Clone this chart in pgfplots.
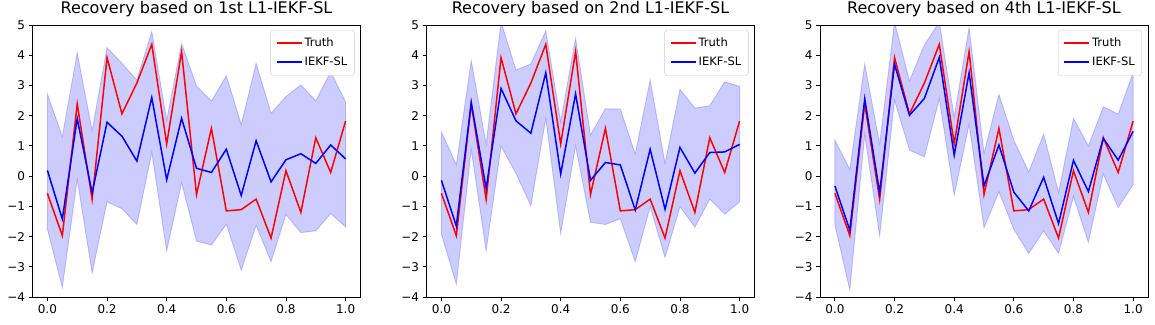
\documentclass[border=0pt]{standalone}
\usepackage{fontspec}
\setmainfont{DejaVu Sans}
\usepackage{pgfplots}
\pgfplotsset{compat=1.18}
\usepackage{pgfplotstable}

% columns: x, truth, estimate (IEKF-SL)
\pgfplotstableread{
x     truth  est
0.00  -0.57  0.19
0.05  -1.97 -1.42
0.10   2.39  1.90
0.15  -0.77 -0.55
0.20   3.92  1.78
0.25   2.06  1.32
0.30   3.08  0.50
0.35   4.36  2.60
0.40   1.06 -0.12
0.45   4.12  1.91
0.50  -0.61  0.26
0.55   1.58  0.12
0.60  -1.15  0.89
0.65  -1.11 -0.64
0.70  -0.76  1.17
0.75  -2.05 -0.19
0.80   0.18  0.54
0.85  -1.20  0.74
0.90   1.27  0.42
0.95   0.12  1.03
1.00   1.82  0.57
}\dataA

\pgfplotstableread{
x     truth  est
0.00  -0.57 -0.14
0.05  -1.97 -1.65
0.10   2.39  2.44
0.15  -0.77 -0.41
0.20   3.92  2.90
0.25   2.06  1.83
0.30   3.08  1.42
0.35   4.36  3.42
0.40   1.06  0.07
0.45   4.12  2.72
0.50  -0.61 -0.14
0.55   1.58  0.45
0.60  -1.15  0.37
0.65  -1.11 -1.12
0.70  -0.76  0.89
0.75  -2.05 -1.10
0.80   0.18  0.95
0.85  -1.20  0.10
0.90   1.27  0.78
0.95   0.12  0.80
1.00   1.82  1.05
}\dataB

\pgfplotstableread{
x     truth  est
0.00  -0.57 -0.33
0.05  -1.97 -1.79
0.10   2.39  2.56
0.15  -0.77 -0.55
0.20   3.92  3.70
0.25   2.06  2.01
0.30   3.08  2.57
0.35   4.36  3.93
0.40   1.06  0.69
0.45   4.12  3.42
0.50  -0.61 -0.32
0.55   1.58  1.03
0.60  -1.15 -0.53
0.65  -1.11 -1.15
0.70  -0.76 -0.04
0.75  -2.05 -1.57
0.80   0.18  0.52
0.85  -1.20 -0.51
0.90   1.27  1.25
0.95   0.12  0.53
1.00   1.82  1.48
}\dataC

% confidence bands: upper edge left to right, then lower edge right to left
\pgfplotstableread{
x     y
0.00   2.71
0.05   1.31
0.10   4.08
0.15   1.50
0.20   4.25
0.25   3.73
0.30   3.18
0.35   4.78
0.40   1.85
0.45   4.39
0.50   2.98
0.55   2.48
0.60   3.32
0.65   1.71
0.70   3.73
0.75   2.08
0.80   2.63
0.85   3.02
0.90   2.49
0.95   3.45
1.00   2.46
1.00  -1.68
0.95  -1.24
0.90  -1.81
0.85  -1.87
0.80  -1.27
0.75  -2.83
0.70  -1.63
0.65  -3.11
0.60  -1.59
0.55  -2.28
0.50  -2.15
0.45  -0.22
0.40  -2.47
0.35   0.78
0.30  -1.60
0.25  -1.08
0.20  -0.85
0.15  -3.20
0.10  -0.11
0.05  -3.68
0.00  -1.76
}\bandA

\pgfplotstableread{
x     y
0.00   1.46
0.05   0.38
0.10   3.82
0.15   1.06
0.20   5.10
0.25   3.51
0.30   3.71
0.35   4.81
0.40   1.80
0.45   4.56
0.50   1.36
0.55   2.23
0.60   2.22
0.65   0.73
0.70   3.18
0.75   0.42
0.80   2.87
0.85   2.25
0.90   2.33
0.95   3.12
1.00   2.97
1.00  -0.85
0.95  -1.26
0.90  -0.76
0.85  -1.69
0.80  -1.01
0.75  -2.69
0.70  -1.01
0.65  -2.83
0.60  -1.41
0.55  -1.60
0.50  -1.53
0.45   1.00
0.40  -1.90
0.35   1.91
0.30  -0.98
0.25   0.09
0.20   0.99
0.15  -2.47
0.10   0.88
0.05  -3.57
0.00  -1.92
}\bandB

\pgfplotstableread{
x     y
0.00   1.19
0.05   0.22
0.10   3.71
0.15   1.06
0.20   5.10
0.25   3.15
0.30   4.34
0.35   5.10
0.40   1.95
0.45   4.92
0.50   0.75
0.55   2.70
0.60   1.19
0.65   0.14
0.70   1.39
0.75  -0.54
0.80   1.91
0.85   1.00
0.90   2.29
0.95   2.05
1.00   3.42
1.00  -0.28
0.95  -1.04
0.90   0.07
0.85  -2.19
0.80  -0.68
0.75  -2.56
0.70  -1.81
0.65  -2.56
0.60  -1.76
0.55  -0.52
0.50  -1.71
0.45   1.71
0.40  -0.63
0.35   2.55
0.30   0.64
0.25   0.86
0.20   2.51
0.15  -1.98
0.10   1.37
0.05  -3.77
0.00  -1.62
}\bandC

\pgfplotsset{
  panel/.style={
    scale only axis,
    width=328pt, height=272pt,
    xmin=-0.05, xmax=1.05, ymin=-4, ymax=5,
    xtick={0,0.2,0.4,0.6,0.8,1.0},
    xticklabels={0.0,0.2,0.4,0.6,0.8,1.0},
    ytick={-4,-3,-2,-1,0,1,2,3,4,5},
    yticklabels={−4,−3,−2,−1,0,1,2,3,4,5},
    tick align=outside, tick pos=left,
    major tick length=4pt,
    tick style={black, line width=0.9pt},
    axis line style={line width=0.9pt},
    tick label style={font=\fontsize{12}{14}\selectfont},
    title style={at={(0.5,1)}, anchor=base, yshift=6pt, font=\fontsize{16}{19}\selectfont},
    legend style={at={(1,1)}, anchor=north east, xshift=-6pt, yshift=-5pt,
      draw=white!80!black, rounded corners=2.5pt, fill=white,
      inner xsep=5pt, inner ysep=6pt, row sep=5pt,
      font=\fontsize{11.5}{13}\selectfont},
    legend cell align=left,
  },
  band/.style={fill=blue, fill opacity=0.2, draw=blue, draw opacity=0.2,
    line width=0.9pt, forget plot},
  truth/.style={draw=red, line width=1.5pt, forget plot},
  iekf/.style={draw=blue, line width=1.5pt, forget plot},
  keyred/.style={legend image code/.code={\draw[red, line width=2pt, sharp corners] (0pt,0pt) -- (25pt,0pt);}},
  keyblue/.style={legend image code/.code={\draw[blue, line width=2pt, sharp corners] (0pt,0pt) -- (25pt,0pt);}},
}

\begin{document}
\begin{tikzpicture}
\useasboundingbox (0pt,0pt) rectangle (1155pt,324pt);

\begin{axis}[panel, at={(32.5pt,27pt)}, anchor=south west,
  title={Recovery based on 1st L1-IEKF-SL}]
  \addplot[band] table[x=x, y=y] {\bandA} -- cycle;
  \addplot[truth] table[x=x, y=truth] {\dataA};
  \addplot[iekf] table[x=x, y=est] {\dataA};
  \addlegendimage{keyred}\addlegendentry{Truth}
  \addlegendimage{keyblue}\addlegendentry{IEKF-SL}
\end{axis}

\begin{axis}[panel, at={(426.5pt,27pt)}, anchor=south west,
  title={Recovery based on 2nd L1-IEKF-SL}]
  \addplot[band] table[x=x, y=y] {\bandB} -- cycle;
  \addplot[truth] table[x=x, y=truth] {\dataB};
  \addplot[iekf] table[x=x, y=est] {\dataB};
  \addlegendimage{keyred}\addlegendentry{Truth}
  \addlegendimage{keyblue}\addlegendentry{IEKF-SL}
\end{axis}

\begin{axis}[panel, at={(820pt,27pt)}, anchor=south west,
  title={Recovery based on 4th L1-IEKF-SL}]
  \addplot[band] table[x=x, y=y] {\bandC} -- cycle;
  \addplot[truth] table[x=x, y=truth] {\dataC};
  \addplot[iekf] table[x=x, y=est] {\dataC};
  \addlegendimage{keyred}\addlegendentry{Truth}
  \addlegendimage{keyblue}\addlegendentry{IEKF-SL}
\end{axis}
\end{tikzpicture}
\end{document}
